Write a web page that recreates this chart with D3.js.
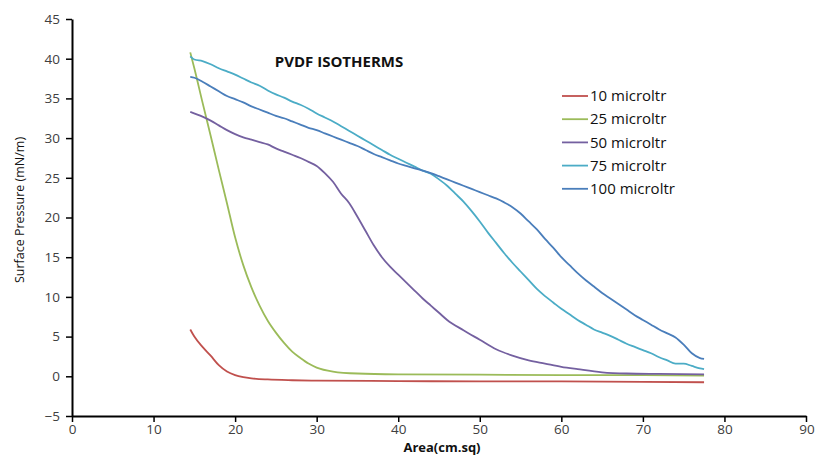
<!DOCTYPE html>
<html>
<head>
<meta charset="utf-8">
<script src="https://cdn.jsdelivr.net/npm/d3@7"></script>
<style>
  body { margin: 0; background: #fff; }
  svg { display: block; }
</style>
</head>
<body>
<div id="chart"></div>
<script>
// series labels and colours
const seriesNames = ['10 microltr', '25 microltr', '50 microltr', '75 microltr', '100 microltr'];
const seriesColors = ['#c0504d', '#9bbb59', '#7460a0', '#4bacc6', '#4a7ebb'];

const xTicks = [0, 10, 20, 30, 40, 50, 60, 70, 80, 90];
const yTicks = [-5, 0, 5, 10, 15, 20, 25, 30, 35, 40, 45];

// [area, surface pressure]
const s10 = [[14.5,5.9],[15,5.0],[16,3.7],[17,2.6],[18,1.4],[19,0.6],[20,0.15],[21,-0.1],[22,-0.25],
  [24,-0.4],[27,-0.5],[30,-0.55],[40,-0.6],[50,-0.65],[60,-0.65],[70,-0.7],[77.5,-0.75]];

const s25 = [[14.5,40.8],[15,38.8],[16,34.5],[17,30.3],[18,26.0],[19,21.8],[20,17.5],[21,14.0],
  [22,11.2],[23,8.9],[24,7.0],[25,5.5],[26,4.2],[27,3.1],[28,2.3],[29,1.6],[30,1.1],[32,0.6],
  [35,0.35],[40,0.25],[50,0.2],[60,0.15],[70,0.15],[77.5,0.1]];

const s50 = [[14.5,33.3],[16,32.7],[17,32.2],[18,31.6],[19,31.0],[20,30.5],[21,30.1],[22,29.8],
  [23,29.5],[24,29.2],[25,28.7],[26,28.3],[27,27.9],[28,27.5],[29,27.0],[30,26.5],[31,25.6],
  [32,24.5],[33,23.0],[34,21.8],[35,20.1],[36,18.3],[37,16.5],[38,15.0],[39,13.8],[40,12.8],
  [41,11.8],[42,10.8],[43,9.8],[44,8.9],[45,8.0],[46,7.1],[48,5.8],[50,4.6],[52,3.4],[54,2.6],
  [56,2.0],[58,1.6],[60,1.2],[62,0.9],[65,0.5],[68,0.35],[72,0.3],[77.5,0.25]];

const s75 = [[14.5,40.3],[15,39.9],[16,39.7],[17,39.3],[18,38.8],[19,38.4],[20,38.0],[21,37.5],
  [22,37.0],[23,36.6],[24,36.0],[25,35.5],[26,35.1],[27,34.6],[28,34.2],[29,33.7],[30,33.1],
  [31,32.6],[32,32.1],[33,31.5],[34,30.9],[35,30.3],[36,29.7],[37,29.1],[38,28.5],[39,27.9],
  [40,27.4],[41,26.9],[42,26.4],[43,25.9],[44,25.5],[45,24.8],[46,24.0],[47,23.0],[48,22.0],
  [49,20.8],[50,19.5],[51,18.1],[52,16.8],[53,15.5],[54,14.3],[55,13.2],[56,12.1],[57,11.0],
  [58,10.1],[59,9.3],[60,8.5],[61,7.8],[62,7.1],[63,6.5],[64,5.9],[65,5.5],[66,5.1],[67,4.6],
  [68,4.1],[69,3.7],[70,3.3],[71,2.9],[72,2.4],[73,2.0],[74,1.6],[75,1.6],[76,1.3],[77,1.0],[77.5,0.9]];

const s100 = [[14.5,37.7],[15,37.6],[16,37.1],[17,36.5],[18,35.9],[19,35.3],[20,34.9],[21,34.5],
  [22,34.0],[23,33.6],[24,33.2],[25,32.8],[26,32.5],[27,32.1],[28,31.7],[29,31.3],[30,31.0],
  [31,30.6],[32,30.2],[33,29.8],[34,29.4],[35,29.0],[36,28.5],[37,28.0],[38,27.6],[39,27.2],
  [40,26.8],[41,26.5],[42,26.2],[43,25.9],[44,25.6],[45,25.2],[46,24.8],[47,24.4],[48,24.0],
  [49,23.6],[50,23.2],[51,22.8],[52,22.4],[53,21.9],[54,21.3],[55,20.5],[56,19.5],[57,18.5],
  [58,17.3],[59,16.2],[60,15.0],[61,14.0],[62,13.0],[63,12.1],[64,11.3],[65,10.5],[66,9.8],
  [67,9.1],[68,8.4],[69,7.7],[70,7.1],[71,6.5],[72,5.9],[73,5.4],[74,4.9],[75,4.0],[76,2.9],
  [77,2.3],[77.5,2.2]];

const series = [s10, s25, s50, s75, s100];

const W = 817, H = 457;
const svg = d3.select('#chart').append('svg')
  .attr('width', W)
  .attr('height', H);

const x = d3.scaleLinear().domain([0, 90]).range([72, 806]);
const y = d3.scaleLinear().domain([-5, 45]).range([416, 19]);

const font = '"Open Sans", Lato, sans-serif';

// axes
const xAxis = svg.append('g')
  .attr('transform', `translate(0,${y(-5)})`)
  .call(d3.axisBottom(x).tickValues(xTicks).tickSize(6).tickSizeOuter(0).tickPadding(2));

const yAxis = svg.append('g')
  .attr('transform', `translate(${x(0)},0)`)
  .call(d3.axisLeft(y).tickValues(yTicks).tickSize(6).tickSizeOuter(0).tickPadding(6));

[xAxis, yAxis].forEach(a => {
  a.select('.domain').attr('stroke', '#000').attr('stroke-width', 2);
  a.selectAll('.tick line').attr('stroke', '#000').attr('stroke-width', 1.5);
  a.selectAll('.tick text')
    .attr('fill', '#404040')
    .style('font-family', font)
    .style('font-size', '13.5px');
});

// last x label sits against the right edge
xAxis.selectAll('.tick text').filter(d => d === 90).attr('text-anchor', 'end').attr('dx', '0.6em');

// lines
const line = d3.line()
  .x(d => x(d[0]))
  .y(d => y(d[1]))
  .curve(d3.curveMonotoneX);

svg.append('g').selectAll('path')
  .data(series)
  .enter().append('path')
  .attr('d', line)
  .attr('fill', 'none')
  .attr('stroke', (d, i) => seriesColors[i])
  .attr('stroke-width', 1.8);

// title
svg.append('text')
  .attr('x', 339)
  .attr('y', 67)
  .attr('text-anchor', 'middle')
  .style('font-family', font)
  .style('font-size', '15px')
  .style('font-weight', 'bold')
  .attr('fill', '#111')
  .text('PVDF ISOTHERMS');

// axis titles
svg.append('text')
  .attr('x', 442)
  .attr('y', 452)
  .attr('text-anchor', 'middle')
  .style('font-family', font)
  .style('font-size', '13px')
  .style('font-weight', 'bold')
  .attr('fill', '#111')
  .text('Area(cm.sq)');

svg.append('text')
  .attr('transform', 'translate(24,210) rotate(-90)')
  .attr('text-anchor', 'middle')
  .style('font-family', font)
  .style('font-size', '12.5px')
  .attr('fill', '#111')
  .text('Surface Pressure (mN/m)');

// legend
const legend = svg.append('g').selectAll('g')
  .data(seriesNames)
  .enter().append('g')
  .attr('transform', (d, i) => `translate(562,${96 + i * 23.2})`);

legend.append('line')
  .attr('x1', 0).attr('x2', 26)
  .attr('stroke', (d, i) => seriesColors[i])
  .attr('stroke-width', 1.8);

legend.append('text')
  .attr('x', 28)
  .attr('dy', '0.35em')
  .style('font-family', font)
  .style('font-size', '15px')
  .attr('fill', '#111')
  .text(d => d);
</script>
</body>
</html>
